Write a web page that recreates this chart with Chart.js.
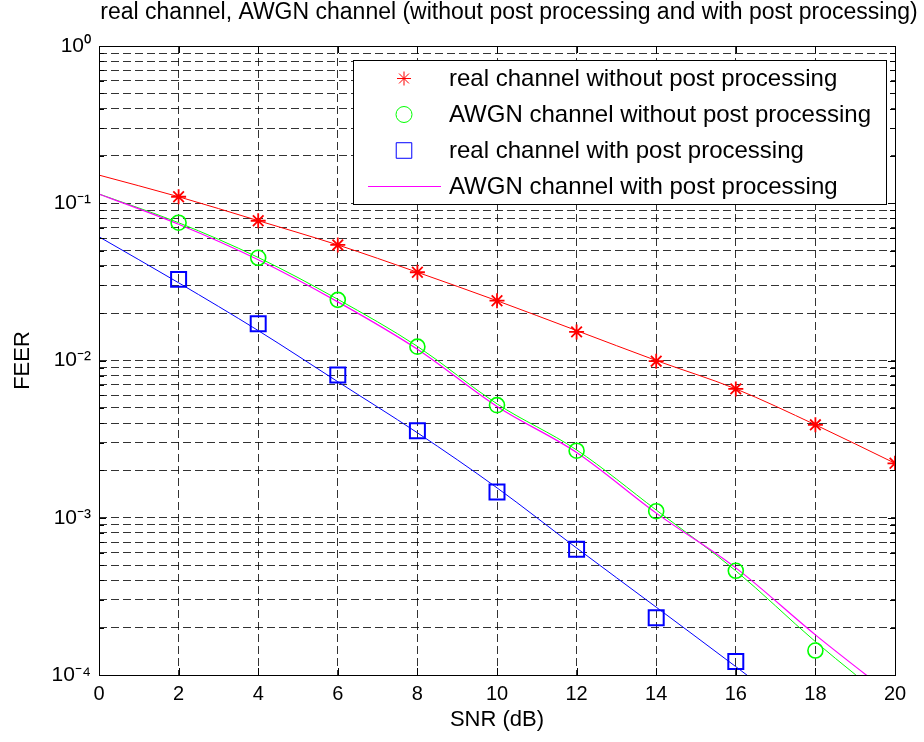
<!DOCTYPE html>
<html>
<head>
<meta charset="utf-8">
<script src="https://cdn.jsdelivr.net/npm/chart.js@4.4.1/dist/chart.umd.min.js"></script>
<style>
  html, body { margin: 0; padding: 0; background: #fff; }
  canvas { display: block; }
</style>
</head>
<body>
<canvas id="chart" width="924" height="742"></canvas>
<script>
// SNR (dB) where the simulations were run
const snrMarkers = [2, 4, 6, 8, 10, 12, 14, 16, 18, 20];
// the fitted curves are sampled on this grid
const snrFit = [0, 2, 4, 6, 8, 10, 12, 14, 16, 18, 20];

// measured FEER
const realNoPost = [0.110, 0.0774, 0.0543, 0.0364, 0.0240, 0.0152, 0.0099, 0.0066, 0.0039, 0.00222];
const awgnNoPost = [0.0752, 0.0450, 0.0243, 0.01225, 0.0052, 0.00267, 0.00110, 0.00046, 0.000143];
const realPost = [0.0328, 0.0171, 0.0081, 0.00358, 0.00146, 0.00063, 0.000231, 0.000122];

// fitted curves
const realNoPostFit = [0.151, 0.110, 0.0775, 0.0543, 0.0364, 0.0240, 0.0155, 0.0100, 0.0066, 0.0039, 0.00222];
const awgnNoPostFit = [0.1145, 0.0752, 0.0452, 0.0245, 0.0123, 0.0053, 0.0027, 0.00112, 0.00046, 0.000163, 0.000063];
const awgnPostFit = [0.1145, 0.0735, 0.0437, 0.0236, 0.0118, 0.0051, 0.0026, 0.00107, 0.00048, 0.00018, 0.000072];
const realPostFit = [0.0612, 0.0312, 0.0155, 0.00733, 0.00347, 0.00155, 0.000642, 0.00027, 0.000113, 0.0000467, 0.0000194];

// log axis: decades and the multipliers that get a grid line
const yExponents = [-4, -3, -2, -1, 0];
const yMultipliers = [1, 2, 3, 4, 5, 6, 7, 8, 9];
const yTickLabels = ['10⁻⁴', '10⁻³', '10⁻²', '10⁻¹', '10⁰'];

const titleText = 'real channel, AWGN channel (without post processing and with post processing)';

const toPoints = (xs, ys) => ys.map((y, i) => ({ x: xs[i], y }));

const yTicks = [];
yExponents.forEach(e => {
  yMultipliers.forEach(m => {
    const v = m * Math.pow(10, e);
    if (v <= 1) yTicks.push({ value: v, major: m === 1 });
  });
});

Chart.defaults.font.family = '"Liberation Sans", Arial, Helvetica, sans-serif';
Chart.defaults.color = '#000';

const FONT = '"Liberation Sans", Arial, Helvetica, sans-serif';
const gridColor = 'rgba(0,0,0,0.8)';

// axes box, inner tick marks, title and the legend inside the plot
const framePlugin = {
  id: 'frame',
  afterDraw(chart) {
    const { ctx, chartArea: a } = chart;
    const xs = chart.scales.x, ys = chart.scales.y;
    ctx.save();
    ctx.setLineDash([]);
    ctx.strokeStyle = '#000';
    ctx.lineWidth = 1;

    // ticks pointing inward
    ctx.beginPath();
    xs.ticks.forEach(t => {
      const px = Math.round(xs.getPixelForValue(t.value)) + 0.5;
      ctx.moveTo(px, a.bottom); ctx.lineTo(px, a.bottom - 7);
      ctx.moveTo(px, a.top); ctx.lineTo(px, a.top + 7);
    });
    ys.ticks.forEach(t => {
      const py = Math.round(ys.getPixelForValue(t.value)) + 0.5;
      const len = t.major ? 7 : 5;
      ctx.moveTo(a.left, py); ctx.lineTo(a.left + len, py);
      ctx.moveTo(a.right, py); ctx.lineTo(a.right - len, py);
    });
    ctx.stroke();

    ctx.strokeRect(Math.round(a.left) + 0.5, Math.round(a.top) + 0.5,
      Math.round(a.right - a.left), Math.round(a.bottom - a.top));

    // title
    ctx.fillStyle = '#000';
    ctx.font = '23px ' + FONT;
    ctx.textAlign = 'center';
    ctx.textBaseline = 'alphabetic';
    ctx.fillText(titleText, 509, 19);

    // legend
    const box = { left: 353.5, top: 60.5, right: 886.5, bottom: 204.5 };
    ctx.fillStyle = '#fff';
    ctx.fillRect(box.left, box.top, box.right - box.left, box.bottom - box.top);
    ctx.strokeRect(box.left, box.top, box.right - box.left, box.bottom - box.top);
    const entries = chart.data.datasets.filter(d => d.inLegend);
    const rowStep = (box.bottom - box.top) / entries.length;
    ctx.font = '24px ' + FONT;
    ctx.textAlign = 'left';
    ctx.textBaseline = 'middle';
    entries.forEach((d, i) => {
      const y = box.top + rowStep * (i + 0.5);
      if (d.showLine === false) {
        ctx.strokeStyle = d.pointBorderColor;
        ctx.fillStyle = 'rgba(0,0,0,0)';
        ctx.lineWidth = 1;
        Chart.helpers.drawPoint(ctx, {
          pointStyle: d.pointStyle, rotation: 0, radius: d.legendRadius, borderWidth: 1
        }, 404, y);
      } else {
        ctx.strokeStyle = d.borderColor;
        ctx.lineWidth = 1.2;
        ctx.beginPath();
        ctx.moveTo(368, y); ctx.lineTo(441, y);
        ctx.stroke();
      }
      ctx.fillStyle = '#000';
      ctx.fillText(d.label, 449, y + 1);
    });
    ctx.restore();
  }
};

const markerSet = (label, xs, ys, color, style, radius, width, legendRadius) => ({
  label, data: toPoints(xs, ys), inLegend: true, showLine: false,
  pointStyle: style, pointRadius: radius, pointBorderWidth: width,
  pointBorderColor: color, pointBackgroundColor: 'rgba(0,0,0,0)',
  borderColor: color, legendRadius
});

const fitSet = (label, ys, color, width, inLegend) => ({
  label, data: toPoints(snrFit, ys), inLegend,
  borderColor: color, borderWidth: width, pointRadius: 0,
  cubicInterpolationMode: 'monotone', fill: false
});

new Chart(document.getElementById('chart'), {
  type: 'line',
  data: {
    datasets: [
      markerSet('real channel without post processing', snrMarkers, realNoPost, '#ff0000', 'star', 7.5, 1.8, 7),
      markerSet('AWGN channel without post processing', snrMarkers, awgnNoPost, '#00ff00', 'circle', 7.5, 1.6, 8),
      markerSet('real channel with post processing', snrMarkers, realPost, '#0000ff', 'rect', 10.6, 2, 11),
      fitSet('AWGN channel with post processing', awgnPostFit, '#ff00ff', 1.2, true),
      fitSet('real channel fit', realNoPostFit, '#ff0000', 1, false),
      fitSet('AWGN channel fit', awgnNoPostFit, '#00ff00', 1, false),
      fitSet('real channel post fit', realPostFit, '#0000ff', 1, false)
    ]
  },
  options: {
    responsive: false,
    animation: false,
    layout: { padding: { top: 46, right: 29, left: 0, bottom: 0 } },
    plugins: {
      legend: { display: false },
      title: { display: false },
      tooltip: { enabled: false }
    },
    scales: {
      x: {
        type: 'linear',
        min: 0,
        max: 20,
        afterFit(scale) { scale.height = 67; },
        ticks: { stepSize: 2, padding: 7, autoSkip: false, maxRotation: 0, font: { size: 20 } },
        grid: { color: gridColor, lineWidth: 1, drawTicks: false },
        border: { display: false, dash: [8, 4] },
        title: { display: true, text: 'SNR (dB)', font: { size: 22 }, padding: { top: 0, bottom: 9 } }
      },
      y: {
        type: 'logarithmic',
        min: 1e-4,
        max: 1,
        afterFit(scale) { scale.width = 99; },
        afterBuildTicks(scale) {
          scale.ticks = yTicks.map(t => ({ value: t.value, major: t.major }));
        },
        ticks: {
          autoSkip: false,
          padding: 8,
          font: { size: 21 },
          callback(value, index, ticks) {
            if (!ticks[index].major) return '';
            const e = Math.round(Math.log10(value));
            return yTickLabels[yExponents.indexOf(e)];
          }
        },
        grid: { color: gridColor, lineWidth: 1, drawTicks: false },
        border: { display: false, dash: [8, 4] },
        title: { display: true, text: 'FEER', font: { size: 22 }, padding: { top: 10, bottom: 0 } }
      }
    }
  },
  plugins: [framePlugin]
});
</script>
</body>
</html>
